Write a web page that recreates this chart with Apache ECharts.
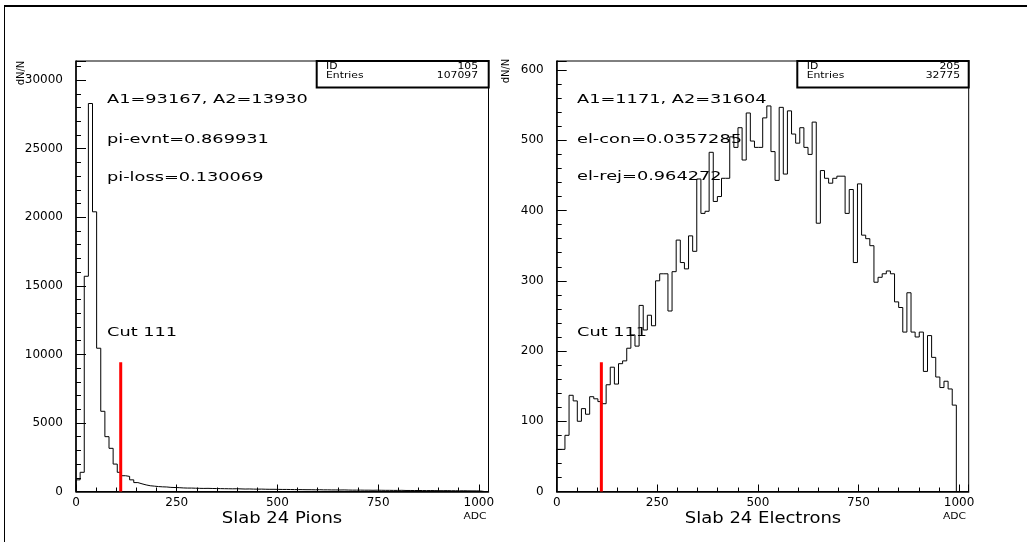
<!DOCTYPE html>
<html><head><meta charset="utf-8">
<script src="https://cdn.jsdelivr.net/npm/echarts@6/dist/echarts.min.js"></script>
<style>html,body{margin:0;padding:0;background:#fff}#c{width:1027px;height:542px}</style>
</head><body><div id="c"></div>
<script>
// ---------------- data ----------------
const N_BINS = 100;
const X_MAX = 1024;
const pionCounts = [
  850, 1400, 15700, 28300, 20400, 10450, 5850, 4000, 3150, 2000,
  1400, 1150, 1100, 850, 650, 560, 480, 420, 390, 360,
  340, 330, 300, 290, 280, 260, 250, 250, 240, 230,
  225, 230, 220, 215, 210, 205, 200, 195, 200, 190,
  180, 185, 175, 170, 175, 165, 160, 160, 155, 150,
  150, 145, 140, 140, 135, 130, 130, 125, 130, 120,
  120, 115, 115, 110, 115, 105, 100, 100, 100, 95,
  95, 90, 95, 90, 85, 85, 80, 80, 85, 75,
  75, 70, 75, 70, 65, 70, 65, 60, 60, 65,
  55, 55, 50, 55, 50, 45, 45, 40, 0, 0
];
const electronCounts = [
  60, 60, 80, 137, 129, 100, 118, 110, 135, 132,
  128, 125, 152, 177, 153, 182, 186, 204, 223, 207,
  265, 230, 251, 236, 300, 310, 310, 257, 313, 358,
  326, 317, 364, 342, 445, 396, 399, 483, 413, 420,
  446, 446, 505, 490, 518, 472, 539, 499, 490, 490,
  532, 549, 484, 443, 547, 452, 542, 509, 496, 518,
  490, 480, 526, 382, 457, 446, 439, 446, 449, 449,
  396, 430, 326, 438, 365, 360, 350, 298, 305, 310,
  314, 310, 270, 262, 227, 283, 227, 220, 227, 171,
  222, 191, 163, 148, 157, 146, 123, 0, 0, 0
];
const xMajorStep = 250, xMinorStep = 50;
const pionYMajorStep = 5000, pionYMinorStep = 1000;
const elecYMajorStep = 100, elecYMinorStep = 20;
const pionYMax = 31400;
const elecYMax = 613;
const pionCut = [111, 9420];
const elecCut = [111, 184];
const pionStats = ['105', '107097'];
const elecStats = ['205', '32775'];
const pionNotes = ['A1=93167, A2=13930', 'pi-evnt=0.869931', 'pi-loss=0.130069', 'Cut 111'];
const elecNotes = ['A1=1171, A2=31604', 'el-con=0.0357285', 'el-rej=0.964272', 'Cut 111'];
const titles = ['Slab 24 Pions', 'Slab 24 Electrons'];
const unitLabel = 'ADC';
const yTitle = 'dN/N';

// ---------------- build ----------------
const FONT = '"DejaVu Sans"';
function histData(counts) {
  const w = X_MAX / N_BINS;
  const d = [[0, 0]];
  counts.forEach((c, i) => d.push([i * w, c]));
  d.push([counts.length * w, 0]);
  return d;
}
const G = [
  {left: 76, top: 61, width: 412.5, height: 430.5},
  {left: 556.7, top: 61, width: 412, height: 430.5}
];
const grids = [];
[0, 1, 0, 1].forEach((k, i) => {
  grids.push(Object.assign({
    show: i < 2, borderColor: '#000', borderWidth: 1, backgroundColor: 'transparent',
    containLabel: false, outerBoundsMode: 'none'
  }, G[k]));
});
function fmt(step) { return v => (v % step === 0 ? String(v) : ''); }
function xAx(gi, main) {
  return {
    gridIndex: gi, type: 'value', min: 0, max: X_MAX, position: 'bottom',
    interval: main ? xMajorStep : xMinorStep,
    axisLine: {show: true, onZero: false, lineStyle: {color: main ? '#000' : 'rgba(0,0,0,0)', width: 1.5}},
    axisTick: {show: true, inside: true, length: main ? 7 : 4, lineStyle: {color: '#000', width: 1}},
    axisLabel: {show: main, margin: 5, color: '#000',
      fontSize: 12, fontFamily: 'DejaVu Sans', formatter: fmt(xMajorStep)},
    splitLine: {show: false}
  };
}
function yAx(gi, main, maxV, majorStep, minorStep) {
  return {
    gridIndex: gi, type: 'value', min: 0, max: maxV, position: 'left',
    interval: main ? majorStep : minorStep,
    axisLine: {show: true, onZero: false, lineStyle: {color: main ? '#000' : 'rgba(0,0,0,0)', width: 1.5}},
    axisTick: {show: true, inside: true, length: main ? 10 : 5, lineStyle: {color: '#000', width: 1}},
    axisLabel: {show: main, margin: 13, color: '#000',
      fontSize: 12, fontFamily: 'DejaVu Sans', formatter: fmt(majorStep)},
    splitLine: {show: false}
  };
}
function txt(x, y, s, size, sx, align, extra) {
  return Object.assign({
    type: 'text', x: x, y: y, scaleX: sx, silent: true, z: 10,
    style: {text: s, font: size + 'px ' + FONT, fill: '#000', textAlign: align || 'left',
      textVerticalAlign: 'middle', verticalAlign: 'middle'}
  }, extra || {});
}
const graphics = [
  {type: 'line', silent: true, shape: {x1: 4, y1: 6, x2: 1027, y2: 6}, style: {stroke: '#000', lineWidth: 2}},
  {type: 'line', silent: true, shape: {x1: 4.5, y1: 6, x2: 4.5, y2: 542}, style: {stroke: '#000', lineWidth: 1}},
  // stats boxes
  {type: 'rect', silent: true, z: 9, shape: {x: 316.7, y: 61, width: 172, height: 26.5},
    style: {fill: '#fff', stroke: '#000', lineWidth: 2}},
  {type: 'rect', silent: true, z: 9, shape: {x: 797.3, y: 61, width: 171.4, height: 26.5},
    style: {fill: '#fff', stroke: '#000', lineWidth: 2}},
  txt(326, 67, 'ID', 9, 1.2), txt(478, 67, pionStats[0], 9, 1.2, 'right'),
  txt(326, 75.5, 'Entries', 9, 1.2), txt(478, 75.5, pionStats[1], 9, 1.2, 'right'),
  txt(806.7, 67, 'ID', 9, 1.2), txt(960, 67, elecStats[0], 9, 1.2, 'right'),
  txt(806.7, 75.5, 'Entries', 9, 1.2), txt(960, 75.5, elecStats[1], 9, 1.2, 'right'),
  // annotations
  txt(107, 100, pionNotes[0], 12.5, 1.42), txt(107, 140, pionNotes[1], 12.5, 1.42),
  txt(107, 178, pionNotes[2], 12.5, 1.42), txt(107, 333, pionNotes[3], 12.5, 1.42),
  txt(577, 100, elecNotes[0], 12.5, 1.42), txt(577, 140, elecNotes[1], 12.5, 1.42),
  txt(577, 177, elecNotes[2], 12.5, 1.42), txt(577, 333, elecNotes[3], 12.5, 1.42),
  // axis titles
  txt(282, 519, titles[0], 15, 1.2, 'center'),
  txt(763, 519, titles[1], 15, 1.2, 'center'),
  txt(475, 516.5, unitLabel, 9.5, 1.13, 'center'),
  txt(954.5, 516.5, unitLabel, 9.5, 1.13, 'center'),
  txt(21, 73, yTitle, 10, 1, 'center', {rotation: Math.PI / 2}),
  txt(506, 71, yTitle, 10, 1, 'center', {rotation: Math.PI / 2})
];

const chart = echarts.init(document.getElementById('c'), null, {renderer: 'canvas'});
chart.setOption({
  animation: false,
  backgroundColor: '#fff',
  grid: grids,
  xAxis: [xAx(0, true), xAx(1, true), xAx(2, false), xAx(3, false)],
  yAxis: [
    yAx(0, true, pionYMax, pionYMajorStep, pionYMinorStep),
    yAx(1, true, elecYMax, elecYMajorStep, elecYMinorStep),
    yAx(2, false, pionYMax, pionYMajorStep, pionYMinorStep),
    yAx(3, false, elecYMax, elecYMajorStep, elecYMinorStep)
  ],
  series: [
    {type: 'line', xAxisIndex: 0, yAxisIndex: 0, step: 'end', symbol: 'none', clip: true,
      data: histData(pionCounts), lineStyle: {color: '#000', width: 1}, z: 3},
    {type: 'line', xAxisIndex: 1, yAxisIndex: 1, step: 'end', symbol: 'none', clip: true,
      data: histData(electronCounts), lineStyle: {color: '#000', width: 1}, z: 3},
    {type: 'line', xAxisIndex: 0, yAxisIndex: 0, symbol: 'none',
      data: [[pionCut[0], 0], [pionCut[0], pionCut[1]]], lineStyle: {color: '#ff0000', width: 3}, z: 4},
    {type: 'line', xAxisIndex: 1, yAxisIndex: 1, symbol: 'none',
      data: [[elecCut[0], 0], [elecCut[0], elecCut[1]]], lineStyle: {color: '#ff0000', width: 3}, z: 4}
  ],
  graphic: graphics
});
</script>
</body></html>
